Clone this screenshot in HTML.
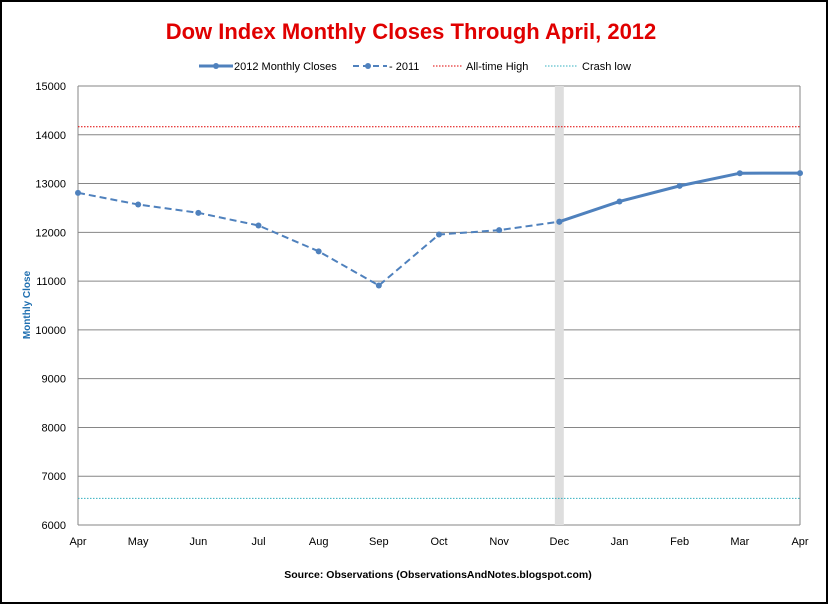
<!DOCTYPE html>
<html><head><meta charset="utf-8"><style>
body{margin:0;background:#fff;}
svg{display:block;font-family:"Liberation Sans",Arial,sans-serif;}
</style></head><body>
<svg id="c" width="828" height="604" viewBox="0 0 828 604">
<rect x="1" y="1" width="826" height="602" fill="#fff" stroke="#000" stroke-width="2"/>
<text x="411" y="39" text-anchor="middle" font-size="22" font-weight="bold" fill="#e00000">Dow Index Monthly Closes Through April, 2012</text>
<g id="legend" font-size="11" fill="#000">
 <g><line x1="199" y1="66" x2="233" y2="66" stroke="#4f81bd" stroke-width="3"/><circle cx="216" cy="66" r="3" fill="#4f81bd"/><text x="234" y="70">2012 Monthly Closes</text></g>
 <g><line x1="353" y1="66" x2="387" y2="66" stroke="#4f81bd" stroke-width="2" stroke-dasharray="6,4"/><circle cx="368" cy="66" r="3" fill="#4f81bd"/><text x="389" y="70">- 2011</text></g>
 <g><line x1="433" y1="66" x2="462" y2="66" stroke="#e00000" stroke-dasharray="1.5,1.5"/><text x="466" y="70">All-time High</text></g>
 <g><line x1="545" y1="66" x2="577" y2="66" stroke="#33b0c0" stroke-dasharray="1.5,1.5"/><text x="582" y="70">Crash low</text></g>
</g>
<g id="plot"></g>
<text transform="translate(30,305) rotate(-90)" text-anchor="middle" font-size="10" font-weight="bold" fill="#1f6fb0">Monthly Close</text>
<text x="438" y="578" text-anchor="middle" font-size="10.5" font-weight="bold">Source: Observations (ObservationsAndNotes.blogspot.com)</text>
</svg>
<script>
const months=["Apr","May","Jun","Jul","Aug","Sep","Oct","Nov","Dec","Jan","Feb","Mar","Apr"];
const values2011=[12810,12570,12400,12140,11610,10910,11955,12045,12218];
const values2012=[12218,12633,12952,13212,13214];
const yTicks=[6000,7000,8000,9000,10000,11000,12000,13000,14000,15000];
const allTimeHigh=14165;
const crashLow=6547;
const X0=78,X1=800,Y0=525,Y1=86,YMIN=6000,YMAX=15000;
const ns="http://www.w3.org/2000/svg";
const g=document.getElementById('plot');
const x=i=>X0+(X1-X0)*i/(months.length-1);
const y=v=>Y0-(Y0-Y1)*(v-YMIN)/(YMAX-YMIN);
function mk(t,a,p){const e=document.createElementNS(ns,t);for(const k in a)e.setAttribute(k,a[k]);(p||g).appendChild(e);return e;}
yTicks.forEach((t,i)=>{
 const l=mk('line',{x1:X0,x2:X1,y1:y(t),y2:y(t),stroke:'#868686','stroke-width':1});
 
 
 const tx=mk('text',{x:X0-12,y:y(t)+4,'text-anchor':'end','font-size':11});
 tx.textContent=t;
 
 
});
mk('line',{x1:X0,x2:X0,y1:Y1,y2:Y0,stroke:'#868686'});
mk('line',{x1:X1,x2:X1,y1:Y1,y2:Y0,stroke:'#868686'});
const band=mk('rect',{x:x(8)-4.5,y:Y1,width:9,height:Y0-Y1,fill:'#dedede'});


months.forEach((m,i)=>{
 const tx=mk('text',{x:x(i),y:Y0+20,'text-anchor':'middle','font-size':11});
 tx.textContent=m;
 
 
});
const hi=mk('line',{x1:X0,x2:X1,y1:y(allTimeHigh),y2:y(allTimeHigh),stroke:'#e00000','stroke-dasharray':'1.5,1.5'});


const lo=mk('line',{x1:X0,x2:X1,y1:y(crashLow),y2:y(crashLow),stroke:'#33b0c0','stroke-dasharray':'1.5,1.5'});


const p11=mk('polyline',{points:values2011.map((v,i)=>x(i)+','+y(v)).join(' '),fill:'none',stroke:'#4f81bd','stroke-width':2,'stroke-dasharray':'7,4'});


const p12=mk('polyline',{points:values2012.map((v,i)=>x(i+8)+','+y(v)).join(' '),fill:'none',stroke:'#4f81bd','stroke-width':3});


values2011.forEach((v,i)=>{
 const c=mk('circle',{cx:x(i),cy:y(v),r:3,fill:'#4f81bd'});
 
 
});
values2012.forEach((v,i)=>{
 const c=mk('circle',{cx:x(i+8),cy:y(v),r:3,fill:'#4f81bd'});
 
 
});
</script>
</body></html>
